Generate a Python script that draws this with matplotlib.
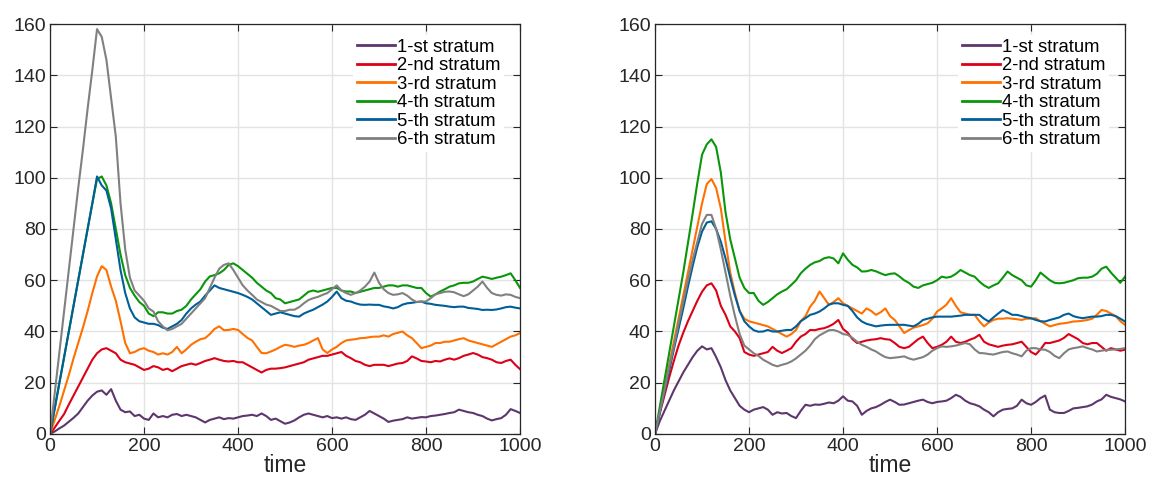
import numpy as np
import matplotlib

matplotlib.use("Agg")
import matplotlib.pyplot as plt

plt.rcParams["font.family"] = ["Liberation Sans", "DejaVu Sans"]

# time axis, one value every 10 time units
time = np.arange(0, 1001, 10)

labels = ["1-st stratum", "2-nd stratum", "3-rd stratum",
          "4-th stratum", "5-th stratum", "6-th stratum"]
colors = ["#5E366E", "#DD0016", "#FF7000", "#0A960A", "#005E98", "#808080"]

# ---- left panel -------------------------------------------------------
left_s1 = [0, 1, 2.2, 3.3, 4.8, 6.3, 8, 10.5, 13, 15,
           16.5, 17, 15.3, 17.5, 13, 9.5, 8.5, 8.8, 7, 7.5,
           6, 5.5, 8, 6.5, 7, 6.5, 7.5, 7.8, 7, 7.5,
           7, 6.5, 5.5, 4.5, 5.5, 6, 6.5, 5.8, 6.2, 6,
           6.5, 7, 7.2, 7.5, 7, 8, 7, 5.5, 6, 5,
           4, 4.5, 5.3, 6.5, 7.5, 8, 7.5, 7, 6.5, 7,
           6.2, 6.5, 6, 6.5, 5.8, 5.5, 6.5, 7.5, 9, 8,
           7, 6, 4.7, 5.2, 5.5, 5.8, 6.5, 6, 6.3, 6.6,
           6.5, 7, 7.2, 7.5, 7.8, 8.2, 8.5, 9.5, 9, 8.5,
           8.2, 7.5, 7, 6, 5.3, 5.8, 6.2, 7.5, 9.7, 9,
           8.2]
left_s2 = [0, 2.5, 5.2, 7.8, 11.5, 15, 18.5, 22, 25.5, 29,
           31.5, 33, 33.5, 32.5, 31.5, 29, 28, 27.5, 27, 26,
           25, 25.5, 26.5, 26, 25, 25.5, 24.5, 25.5, 26.5, 27,
           27.5, 27, 27.7, 28.5, 29, 29.6, 29, 28.5, 28.3, 28.5,
           28, 28, 27, 26, 25, 24, 25, 25.5, 25.5, 25.7,
           26, 26.5, 27, 27.5, 28, 29, 29.5, 30, 30.5, 30.5,
           31, 31.5, 32, 30.5, 29.6, 28.5, 28, 27, 26.5, 27,
           27, 27, 26.5, 27, 27.5, 27.7, 28.5, 30.3, 29.5, 28.5,
           28.3, 28, 28.5, 28.3, 29, 29.5, 29, 29.6, 30.5, 31,
           31.6, 31, 30, 29.6, 29, 28, 27.7, 28.5, 29, 27,
           25.3]
left_s3 = [0, 5.5, 11, 17, 23, 29.5, 35.5, 41.5, 48, 55,
           61.5, 65.5, 64, 57.5, 52, 44, 35.5, 31.5, 32, 33,
           33.5, 32.5, 32, 31, 31.5, 31, 32, 34, 31.5, 33,
           34.8, 36, 37, 37.4, 39, 41, 42, 40.5, 40.6, 41,
           40.6, 39, 37.5, 36.5, 34, 31.6, 31.5, 32.2, 33, 34,
           34.8, 34.5, 34, 34.5, 34.8, 35.5, 36.5, 37.4, 33, 31.6,
           33, 34, 35.5, 36.5, 36.8, 37, 37.4, 37.5, 37.8, 38,
           38, 38.5, 38, 39, 39.5, 40, 38.5, 37.4, 35.5, 33.5,
           34, 34.5, 35.5, 35.5, 36, 36, 36.5, 37, 37.4, 36.5,
           36, 35.5, 35, 34.5, 34, 35, 36, 37, 38, 38.5,
           39.4]
left_s4 = [0, 10, 20, 30, 40, 50, 60, 70, 80, 90,
           99.5, 100.5, 97, 90, 80, 70, 62, 57, 54, 51.5,
           50, 47, 46, 47.5, 47.5, 47, 47, 48, 48.5, 50,
           52.5, 54.5, 56.5, 59.5, 61.5, 62, 62.7, 64, 66, 66.6,
           65.5, 64, 62.5, 61, 59, 57.5, 56, 55, 53, 52.5,
           51, 51.5, 52, 52.5, 54, 55.5, 56, 55.5, 56, 56.5,
           57, 57, 56, 55.6, 55.6, 55, 55.5, 56, 56.5, 57,
           57, 57.5, 58, 58, 57.5, 58, 58, 57.5, 57, 57,
           55, 53.6, 54.5, 55.6, 56.5, 57.5, 58, 58.8, 59, 59,
           59.5, 60.5, 61.4, 61, 60.5, 61, 61.4, 62, 62.7, 60,
           57]
left_s5 = [0, 10, 20, 30, 40, 50, 60, 70, 80, 90,
           100.5, 97, 95, 88, 76, 64, 55, 49, 45.5, 44,
           43.5, 43, 43, 42.5, 41.5, 41, 42, 43, 44.5, 47,
           49, 50.5, 51.7, 54, 56, 58, 57, 56.5, 56, 55.5,
           55, 54.3, 53.5, 52.5, 51, 49.5, 48, 46.5, 47, 47.5,
           47, 46.5, 46, 45.8, 47, 47.8, 48.5, 49.5, 50.5, 51.7,
           53.5, 55.6, 53, 52, 51.7, 51, 50.5, 50.4, 50.5, 50.4,
           50.4, 49.8, 49.5, 49, 49.5, 50.5, 51, 51.2, 51.5, 51.7,
           51, 50.8, 50.4, 50.2, 50, 49.7, 49.5, 49.7, 49.7, 49.2,
           49, 48.8, 48.4, 48.5, 48.4, 48.6, 49, 49.5, 49.7, 49.3,
           49]
left_s6 = [0, 16, 32, 48, 64, 80, 96, 111, 127, 142,
           158, 155, 146, 131, 116, 90, 72, 61, 56, 54,
           52, 49, 47.8, 44, 42, 40.5, 41, 42, 43, 45,
           47, 49, 51, 53, 57, 61, 64.5, 66, 66.6, 64,
           61, 58, 56, 54.3, 52.5, 51.5, 50.5, 50, 49, 48,
           48, 48.5, 48.5, 49.5, 51, 52.3, 53, 53.5, 54.3, 55,
           56.5, 58, 56, 55, 54.3, 55, 56, 57.5, 59.5, 63,
           59, 56.5, 55, 54.3, 54.5, 55, 54, 52.5, 51.5, 51.7,
           51.7, 53, 54.5, 55, 55.5, 55.6, 55.3, 54.5, 53.8, 54.5,
           56, 57.5, 59.5, 57, 55, 54.3, 54, 54.5, 54.3, 53.5,
           53]

# ---- right panel ------------------------------------------------------
right_s1 = [0, 5, 9, 13, 17, 20.5, 24, 27, 30, 32.5,
            34.2, 33, 33.5, 30, 26, 21, 17, 14, 11, 9.5,
            8.5, 9.5, 10, 10.5, 9.5, 7.5, 8.5, 8, 8.2, 7,
            6.2, 9, 11.4, 11, 11.5, 11.4, 11.8, 12.3, 12, 13,
            14.7, 13, 12.7, 11, 7.5, 9, 10, 10.5, 11.4, 12.5,
            13.4, 12.5, 11.4, 11.5, 12, 12.5, 13, 13.4, 12.5, 12,
            12.5, 12.7, 13, 14, 15.3, 14.5, 13, 12, 11.5, 10.8,
            9.5, 8.5, 6.9, 8.5, 9.5, 9.8, 10, 11, 13.4, 12,
            11.4, 12.5, 14, 15, 9.5, 8.5, 8.2, 8.2, 9, 10,
            10.2, 10.5, 10.8, 11.5, 12.7, 13.5, 15.3, 14.5, 14, 13.5,
            12.7]
right_s2 = [0, 8, 15, 22, 28.5, 34.5, 39.5, 44, 48, 52,
            55.5, 58, 58.8, 56, 50, 46.5, 42, 40, 37.4, 32,
            31, 30.5, 31, 31.5, 32, 34, 32.5, 31.6, 32.5, 33.5,
            36, 38, 39, 40.6, 40.5, 41, 41.3, 42, 43, 44.5,
            41, 39.5, 37, 35.5, 36, 36.5, 36.8, 37, 37.4, 37,
            36.8, 35.5, 34, 33.5, 34, 35.5, 37, 38, 35.5, 33.5,
            34, 34.8, 36, 38, 36, 35.5, 36, 36.8, 37.5, 38.7,
            36, 35, 34.5, 34, 34.5, 34.8, 35, 35.5, 36, 34,
            32, 31, 33, 35.5, 35.5, 36, 36.5, 37.5, 39, 38,
            37, 35.5, 35, 35.5, 35.5, 34, 32.5, 33.5, 33, 32.5,
            32.9]
right_s3 = [0, 9, 18, 27, 36, 45, 54, 63, 72, 81,
            90, 97.5, 99.5, 96, 88, 75, 63, 55, 48, 45,
            44, 43.5, 43, 42.5, 42, 41, 40, 39, 38, 39,
            40.6, 44, 46, 49.7, 52, 55.6, 53, 50.4, 51.5, 53,
            51, 50, 49, 48, 47, 49, 48, 46.5, 47.5, 49,
            46, 44.5, 42, 39.4, 40.5, 41.5, 42, 42.5, 43.2, 45,
            47.8, 49, 50.5, 53, 50, 47.5, 47, 46.5, 46.5, 44,
            42, 43.5, 44.5, 45, 45, 45.2, 45, 44.8, 44.5, 45,
            45, 45.2, 44, 43, 42, 42.5, 43, 43.2, 43.5, 43.9,
            44, 44.2, 44.5, 45, 46.5, 48.4, 48, 47, 46, 44,
            42.6]
right_s4 = [0, 10.5, 21, 31.5, 42, 52.5, 63, 74.5, 86, 98,
            109, 113, 115, 112, 102, 86.5, 76, 68.5, 61, 57,
            55, 55, 52, 50.4, 51.5, 53, 54.5, 55.6, 56.5, 58.2,
            60, 62.7, 64.5, 66, 67, 67.5, 68.6, 69, 68.5, 66.6,
            70.5, 68, 66, 65, 63.4, 63.5, 64, 63.5, 62.7, 62,
            62.5, 62.7, 61.5, 60, 59, 57.5, 57, 58, 58.5, 59,
            60, 61.4, 61, 61.4, 62.5, 64, 63, 62, 61.4, 59.5,
            58, 57, 58, 58.8, 61, 63.4, 62, 61, 60, 58,
            57.5, 60, 63, 61.5, 60, 59, 58.8, 59, 59.5, 60,
            60.8, 61, 61, 61.4, 62.5, 64.5, 65.3, 63, 61, 59,
            61.4]
right_s5 = [0, 8.2, 16.4, 24.6, 33, 41, 49, 57.5, 65.5, 73,
            79, 82.5, 83, 80, 75, 68.5, 61, 54, 48, 44,
            42, 40.5, 39.9, 40, 40.6, 40, 40, 40.3, 40.6, 40.6,
            42, 44, 45.2, 46.5, 47, 47.8, 49, 50.5, 51, 51,
            50.4, 50, 48, 45.5, 43.9, 43, 42.5, 42, 42.3, 42.5,
            42.6, 42.6, 42.6, 42.6, 42.3, 42, 43, 44.5, 45, 45.5,
            45.8, 45.8, 45.8, 45.8, 46, 46.2, 46.5, 46.5, 46.5, 46.5,
            45, 43.9, 45.5, 47, 48.4, 47.5, 46.5, 46.5, 46, 45.5,
            45.2, 44.5, 44, 43.9, 44.5, 45, 45.5, 46.5, 47, 46,
            45.5, 45.2, 45.5, 45.8, 45.8, 46, 46.5, 46.5, 46, 45,
            43.9]
right_s6 = [0, 8.6, 17, 26, 34, 43, 51.5, 60, 68, 75,
            82, 85.5, 85.5, 80, 72, 63, 54, 46, 39, 34.5,
            33, 31.5, 30.5, 29, 28, 27, 26.4, 27, 27.5, 28.3,
            29.5, 31, 32.5, 34.5, 37, 38.5, 39.5, 40.5, 40.6, 40,
            39, 38.7, 37.5, 36, 34.8, 34, 33, 32.2, 31, 30,
            29.6, 29.8, 30, 30.3, 29.5, 29, 29.5, 30, 31, 32.5,
            33.5, 34.2, 34, 34.2, 34.5, 35, 35.5, 35, 33, 31.6,
            31.5, 31.2, 31, 31.5, 32, 32.2, 31.5, 31, 30.3, 32.5,
            33.5, 33.5, 33, 32.9, 32, 30.5, 29.6, 31.5, 33, 33.5,
            33.8, 34.2, 33.5, 33, 32.2, 32.5, 32.8, 32.9, 33, 33.2,
            33.5]

left_series = [left_s1, left_s2, left_s3, left_s4, left_s5, left_s6]
right_series = [right_s1, right_s2, right_s3, right_s4, right_s5, right_s6]

fig = plt.figure(figsize=(11.5, 4.82), dpi=100)
ax_l = fig.add_axes([0.0435, 0.0996, 0.4087, 0.8506])
ax_r = fig.add_axes([0.5696, 0.0996, 0.4087, 0.8506])

for ax, series in ((ax_l, left_series), (ax_r, right_series)):
    for ys, lab, c in zip(series, labels, colors):
        ax.plot(time, ys, color=c, lw=1.5, label=lab)
    ax.set_xlim(0, 1000)
    ax.set_ylim(0, 160)
    ax.set_xticks(range(0, 1001, 200))
    ax.set_yticks(range(0, 161, 20))
    ax.grid(True, color="#e3e3e3", lw=1.0)
    ax.set_axisbelow(True)
    ax.tick_params(direction="in", length=5, width=0.8, top=True, right=True,
                   labelsize=14, colors="#262626", pad=3)
    for sp in ax.spines.values():
        sp.set_color("#262626")
        sp.set_linewidth(0.9)
    ax.set_xlabel("time", fontsize=16.5, color="#262626", labelpad=-1)
    # legend nudged ~5 px left of the default upper-right spot
    leg = ax.legend(loc="upper right", bbox_to_anchor=(0.989, 1.0),
                    fontsize=13.3, handlelength=2.05,
                    handletextpad=0.1, labelspacing=0.08, borderpad=0.2,
                    borderaxespad=0.6, frameon=True, fancybox=False)
    leg.get_frame().set_facecolor("white")
    leg.get_frame().set_edgecolor("none")
    leg.get_frame().set_alpha(1.0)
    for h in leg.get_lines():
        h.set_linewidth(2.0)

fig.savefig("out.png", dpi=100)
